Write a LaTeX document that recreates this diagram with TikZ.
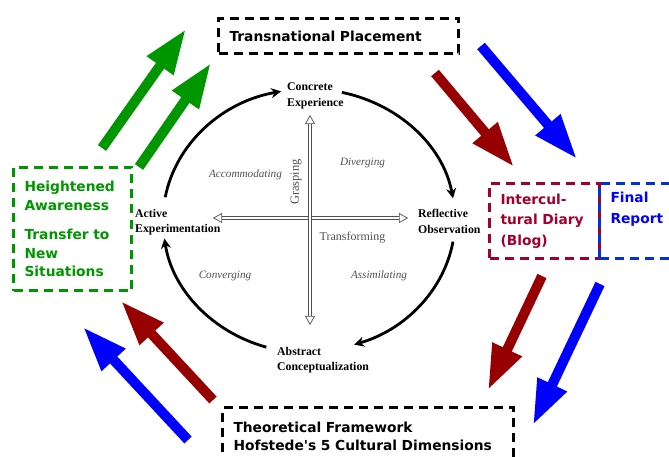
\documentclass[tikz,border=0pt]{standalone}
\usepackage{fontspec}
\setmainfont{Liberation Serif}
\newfontfamily\boxfont{DejaVu Sans}
\usetikzlibrary{arrows.meta}
\definecolor{vert}{RGB}{0,150,0}
\definecolor{bordeaux}{RGB}{150,0,0}
\definecolor{carmin}{RGB}{160,0,45}
\definecolor{bleu}{RGB}{0,0,255}
\definecolor{bleubord}{RGB}{0,50,215}
\definecolor{gris}{RGB}{80,80,80}
\begin{document}
\begin{tikzpicture}[x=1pt,y=-1pt]
    \tikzstyle{boite}=[draw,line width=3pt,dash pattern=on 9pt off 6pt,font=\boxfont\bfseries\fontsize{13.8}{18.5}\selectfont,align=left,inner xsep=11pt,inner ysep=0pt,anchor=north west]
    \tikzstyle{fleche}=[line width=10pt,-{Triangle[length=45pt,width=30pt]}]
    \tikzstyle{etape}=[font=\bfseries\fontsize{11.8}{15.5}\selectfont,align=left,inner sep=0pt,anchor=west]
    \tikzstyle{mode}=[font=\itshape\fontsize{11.2}{13}\selectfont,text=gris,inner sep=0pt]
    \tikzstyle{cycle}=[line width=2.8pt,-{Stealth[length=10pt,width=10pt]}]
    \tikzstyle{axe}=[draw=gris,line width=0.7pt,double=white,double distance=2pt,{Triangle[open,length=9pt,width=10pt]}-{Triangle[open,length=9pt,width=10pt]}]
    \useasboundingbox (0,0) rectangle (669,457);
    % boxes
    \node[boite,text width=218pt,minimum height=35pt] (tp) at (217,17) {Transnational Placement};
    \node[boite,draw=vert,text=vert,text width=96pt,minimum height=123pt] (ha) at (12,166) {Heightened\\Awareness\\[11pt]Transfer to\\New\\Situations};
    \node[boite,draw=carmin,text=carmin,text width=88pt,minimum height=75pt,font=\boxfont\bfseries\fontsize{13.8}{20.5}\selectfont] (id) at (488,182) {Intercul-\\tural Diary\\(Blog)};
    \node[boite,draw=bleubord,text=bleu,text width=88pt,minimum height=75pt,font=\boxfont\bfseries\fontsize{13.8}{20.5}\selectfont] (fr) at (598,182) {Final\\Report\\\strut};
    \node[boite,text width=269pt,minimum height=58pt] (tf) at (221,406) {Theoretical Framework\\Hofstede\textquotesingle s 5 Cultural Dimensions};
    % Kolb cycle
    \node[etape] (ce) at (287,96) {Concrete\\Experience};
    \node[etape] (ro) at (418,221.5) {Reflective\\Observation};
    \node[etape] (ac) at (277,360) {Abstract\\Conceptualization};
    \node[etape] (ae) at (135,222) {Active\\Experimentation};
    \node[mode] (acc) at (245.5,175) {Accommodating};
    \node[mode] (div) at (362.5,163) {Diverging};
    \node[mode] (con) at (225,276) {Converging};
    \node[mode] (ass) at (379,276) {Assimilating};
    \node[mode,font=\fontsize{12}{13}\selectfont] (tra) at (352.5,238) {Transforming};
    \node[mode,font=\fontsize{12.5}{13}\selectfont,rotate=90] (gra) at (296,182) {Grasping};
    \coordinate (ouest) at (213,218);
    \coordinate (est) at (408,218);
    \coordinate (haut) at (310,115);
    \coordinate (bas) at (310,325);
    \draw[axe] (ouest) -- (est);
    \draw[axe] (bas) -- (haut);
    \begin{scope}[shift={(309,220)},yscale=-1]
        \draw[cycle] (170:146 and 131) arc[start angle=170,end angle=101,x radius=146,y radius=131];
        \draw[cycle] (77:146 and 131) arc[start angle=77,end angle=9.5,x radius=146,y radius=131];
        \draw[cycle] (-9.5:146 and 131) arc[start angle=-9.5,end angle=-72,x radius=146,y radius=131];
        \draw[cycle] (-107:146 and 133) arc[start angle=-107,end angle=-172,x radius=146,y radius=133];
    \end{scope}
    % block arrows
    \coordinate (1) at (102,148);
    \coordinate (2) at (186,29);
    \coordinate (3) at (139,167);
    \coordinate (4) at (211,63);
    \coordinate (5) at (435,73);
    \coordinate (6) at (514,167);
    \coordinate (7) at (481,46);
    \coordinate (8) at (577,159);
    \coordinate (9) at (542,276);
    \coordinate (10) at (488,390);
    \coordinate (11) at (600,284);
    \coordinate (12) at (533,425);
    \coordinate (13) at (213,400);
    \coordinate (14) at (121,301);
    \coordinate (15) at (188,440);
    \coordinate (16) at (83,327);
    \draw[fleche,vert] (1) -- (2);
    \draw[fleche,vert] (3) -- (4);
    \draw[fleche,bordeaux] (5) -- (6);
    \draw[fleche,bleu] (7) -- (8);
    \draw[fleche,bordeaux] (9) -- (10);
    \draw[fleche,bleu] (11) -- (12);
    \draw[fleche,bordeaux] (13) -- (14);
    \draw[fleche,bleu] (15) -- (16);
\end{tikzpicture}
\end{document}
